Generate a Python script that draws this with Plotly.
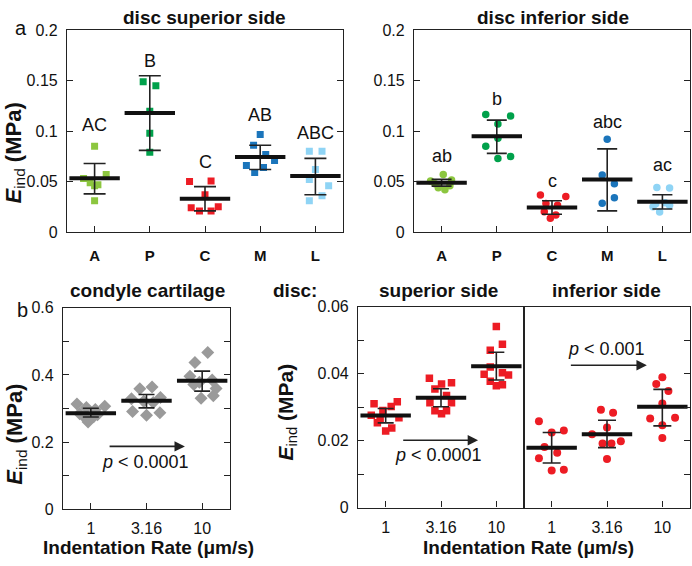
import plotly.graph_objects as go

W, H = 692, 566
FONT = "Liberation Sans, Arial, sans-serif"

# ---------------- data ----------------
sites = ["A", "P", "C", "M", "L"]
site_colors = ["#8cc63f", "#00a14b", "#ed1c24", "#1b75bb", "#8fd4f5"]

# panel a, disc superior side (values, MPa) and horizontal jitter (category units)
sup_vals = [
    [0.085, 0.057, 0.053, 0.049, 0.047, 0.046, 0.031],
    [0.149, 0.145, 0.1197, 0.098, 0.079],
    [0.050, 0.0507, 0.0369, 0.024, 0.021, 0.021, 0.025],
    [0.0966, 0.086, 0.077, 0.071, 0.066, 0.064, 0.059],
    [0.080, 0.080, 0.062, 0.052, 0.046, 0.036, 0.031],
]
sup_dx = [
    [0, 0.21, -0.2, -0.08, 0.06, 0, 0],
    [-0.12, 0.11, 0, 0, 0],
    [-0.28, 0.11, 0, -0.25, -0.1, 0.11, 0.24],
    [0, -0.12, 0.1, 0.26, -0.25, 0.06, -0.1],
    [-0.11, 0.12, 0, -0.11, 0.24, 0.12, -0.11],
]
sup_mean = [0.0533, 0.118, 0.033, 0.0745, 0.0555]
sup_hi = [0.068, 0.155, 0.045, 0.086, 0.073]
sup_lo = [0.0379, 0.081, 0.021, 0.062, 0.037]
sup_letters = ["AC", "B", "C", "AB", "ABC"]
sup_letter_y = [0.106, 0.170, 0.069, 0.116, 0.0985]

# panel a, disc inferior side
inf_vals = [
    [0.057, 0.0505, 0.0515, 0.044, 0.042, 0.046, 0.048],
    [0.1165, 0.115, 0.107, 0.093, 0.085, 0.075, 0.073],
    [0.0368, 0.0353, 0.0282, 0.0266, 0.0202, 0.017, 0.0138],
    [0.092, 0.0565, 0.048, 0.0286, 0.034],
    [0.0442, 0.0436, 0.025, 0.020, 0.0266, 0.029, 0.028],
]
inf_dx = [
    [0.03, -0.2, 0.18, -0.06, 0.06, 0.15, -0.12],
    [-0.2, 0.25, 0.02, 0.02, -0.2, 0.25, 0.02],
    [-0.21, 0.25, -0.11, 0.1, -0.14, 0.07, -0.03],
    [0, -0.09, 0.13, -0.09, 0.13],
    [-0.1, 0.13, -0.17, -0.05, 0.13, 0.05, -0.12],
]
inf_mean = [0.049, 0.095, 0.0244, 0.052, 0.030]
inf_hi = [0.0522, 0.111, 0.031, 0.0825, 0.037]
inf_lo = [0.0455, 0.078, 0.0177, 0.021, 0.0228]
inf_letters = ["ab", "b", "c", "abc", "ac"]
inf_letter_y = [0.075, 0.132, 0.051, 0.109, 0.066]

# panel b
rates = ["1", "3.16", "10"]

cond_vals = [
    [0.314, 0.303, 0.307, 0.297, 0.285, 0.282, 0.272, 0.276, 0.26],
    [0.359, 0.364, 0.329, 0.333, 0.322, 0.318, 0.291, 0.288, 0.28],
    [0.467, 0.437, 0.396, 0.385, 0.378, 0.36, 0.372, 0.331, 0.338],
]
cond_dx = [
    [-0.25, -0.08, 0.25, 0.08, -0.2, 0.12, -0.1, 0.05, -0.05],
    [-0.12, 0.1, -0.27, 0.25, -0.05, 0.12, -0.25, 0.24, 0],
    [0.1, -0.13, -0.22, 0.18, -0.05, 0.25, -0.15, -0.02, 0.2],
]
cond_mean = [0.2865, 0.323, 0.3827]
cond_hi = [0.301, 0.342, 0.4115]
cond_lo = [0.275, 0.302, 0.352]

rsup_vals = [
    [0.031, 0.0316, 0.0302, 0.029, 0.0276, 0.0268, 0.0265, 0.0253, 0.0238, 0.0229],
    [0.0386, 0.0373, 0.0369, 0.0354, 0.0335, 0.0313, 0.0313, 0.0289, 0.0289, 0.028],
    [0.0541, 0.0488, 0.047, 0.042, 0.0403, 0.0396, 0.0398, 0.0377, 0.0364, 0.0367],
]
rsup_dx = [
    [-0.21, 0.21, 0.1, -0.05, -0.26, 0.24, -0.1, -0.15, 0.11, 0],
    [-0.21, 0.19, 0.01, -0.11, 0.1, -0.2, 0.19, -0.11, 0.1, 0.01],
    [0, 0.11, -0.11, -0.11, 0.11, 0.22, -0.22, -0.11, 0, 0.11],
]
rsup_mean = [0.0275, 0.0328, 0.04225]
rsup_hi = [0.0296, 0.0355, 0.0464]
rsup_lo = [0.0253, 0.0301, 0.0381]

rinf_vals = [
    [0.0258, 0.0224, 0.023, 0.0181, 0.0164, 0.0147, 0.0111, 0.0113],
    [0.0292, 0.0283, 0.0239, 0.0219, 0.0191, 0.0191, 0.0198, 0.0145],
    [0.0389, 0.0369, 0.0348, 0.0311, 0.0266, 0.0268, 0.0246, 0.0208],
]
rinf_dx = [
    [-0.23, 0, 0.22, -0.13, 0.1, -0.23, 0, 0.22],
    [-0.11, 0.11, 0, -0.27, -0.08, 0.08, 0.25, 0],
    [0, -0.11, 0.11, 0, -0.22, 0.23, 0, 0],
]
rinf_mean = [0.0179, 0.0219, 0.0301]
rinf_hi = [0.0224, 0.0261, 0.0353]
rinf_lo = [0.0133, 0.0179, 0.0244]

# ---------------- figure ----------------
fig = go.Figure()


def px_x(p):
    return p / W


def px_y(p):
    return 1 - p / H


def add_group(vals, dxs, means, his, los, colors, symbol, size, xa, ya, cap):
    for i, (v, d) in enumerate(zip(vals, dxs)):
        fig.add_trace(go.Scatter(
            x=[i + e for e in d], y=v, mode="markers",
            marker=dict(symbol=symbol, size=size, color=colors[i], line=dict(width=0)),
            xaxis=xa, yaxis=ya, showlegend=False, hoverinfo="y"))
    fig.add_trace(go.Scatter(
        x=list(range(len(means))), y=means, mode="markers",
        marker=dict(symbol="line-ew", size=36, color="#111111",
                    line=dict(width=4, color="#111111")),
        error_y=dict(type="data", symmetric=False,
                     array=[h - m for h, m in zip(his, means)],
                     arrayminus=[m - l for m, l in zip(means, los)],
                     color="#222222", thickness=1.6, width=cap),
        xaxis=xa, yaxis=ya, showlegend=False, hoverinfo="y"))


add_group(sup_vals, sup_dx, sup_mean, sup_hi, sup_lo, site_colors, "square", 7, "x", "y", 11)
add_group(inf_vals, inf_dx, inf_mean, inf_hi, inf_lo, site_colors, "circle", 7.5, "x2", "y2", 10)
add_group(cond_vals, cond_dx, cond_mean, cond_hi, cond_lo, ["#9a9a9a"] * 3, "diamond", 10, "x3", "y3", 8)
add_group(rsup_vals, rsup_dx, rsup_mean, rsup_hi, rsup_lo, ["#ed1c24"] * 3, "square", 7.5, "x4", "y4", 8)
add_group(rinf_vals, rinf_dx, rinf_mean, rinf_hi, rinf_lo, ["#ed1c24"] * 3, "circle", 8, "x5", "y5", 9)

tickfont = dict(family=FONT, size=16, color="#111111")
base_ax = dict(showline=True, linecolor="#222222", linewidth=1.2, ticks="inside",
               ticklen=6, tickcolor="#222222", tickwidth=1.2, showgrid=False,
               zeroline=False, tickfont=tickfont)


def xax(domain, anchor, n, labels, bold, standoff):
    d = dict(base_ax)
    d.update(domain=domain, anchor=anchor, range=[-0.5, n - 0.5], mirror=True,
             tickvals=list(range(n)),
             ticktext=[("<b>%s</b>" % t) if bold else t for t in labels],
             ticklabelstandoff=standoff)
    if bold:
        d["tickfont"] = dict(family=FONT, size=15, color="#111111")
    return d


def yax(domain, anchor, rng, vals, text, mirror="ticks", side="left", show=True):
    d = dict(base_ax)
    d.update(domain=domain, anchor=anchor, range=rng, mirror=mirror, side=side,
             tickvals=vals, ticktext=text, showticklabels=show, ticklabelstandoff=5)
    return d


top_dom = [px_y(231), px_y(23)]
bot_dom = [px_y(517), px_y(309)]
bot2_dom = [px_y(515), px_y(308)]

yt_top = [0, 0.05, 0.1, 0.15, 0.2]
yt_top_txt = ["0", "0.05", "0.1", "0.15", "0.2"]
yt_cond = [0, 0.1, 0.2, 0.3, 0.4, 0.5, 0.6]
yt_cond_txt = ["0", " ", "0.2", " ", "0.4", " ", "0.6"]
yt_disc = [0, 0.01, 0.02, 0.03, 0.04, 0.05, 0.06]
yt_disc_txt = ["0", " ", "0.02", " ", "0.04", " ", "0.06"]

fig.update_layout(
    width=W, height=H, margin=dict(l=0, r=0, t=0, b=0),
    paper_bgcolor="white", plot_bgcolor="white",
    font=dict(family=FONT, color="#111111"),
    xaxis=xax([px_x(67), px_x(343)], "y", 5, sites, True, 10),
    yaxis=yax(top_dom, "x", [0, 0.2], yt_top, yt_top_txt),
    xaxis2=xax([px_x(414), px_x(690)], "y2", 5, sites, True, 10),
    yaxis2=yax(top_dom, "x2", [0, 0.2], yt_top, yt_top_txt),
    xaxis3=xax([px_x(63), px_x(230)], "y3", 3, rates, False, 4),
    yaxis3=yax(bot_dom, "x3", [0, 0.6], yt_cond, yt_cond_txt),
    xaxis4=xax([px_x(358), px_x(524)], "y4", 3, rates, False, 5),
    yaxis4=yax(bot2_dom, "x4", [0, 0.06], yt_disc, yt_disc_txt, mirror=True),
    xaxis5=xax([px_x(524), px_x(690)], "y5", 3, rates, False, 5),
    yaxis5=yax(bot2_dom, "x5", [0, 0.06], yt_disc, yt_disc_txt, mirror=True,
               side="right", show=False),
)

ann = []


def txt(x, y, s, size, bold=False, angle=0, xref="paper", yref="paper"):
    t = s
    if bold:
        t = "<b>%s</b>" % t
    ann.append(dict(x=x, y=y, xref=xref, yref=yref, text=t, showarrow=False,
                    font=dict(family=FONT, size=size, color="#111111"),
                    textangle=angle, xanchor="center", yanchor="middle"))


# titles
txt(px_x(205), px_y(10), "disc superior side", 19, bold=True)
txt(px_x(553), px_y(10), "disc inferior side", 19, bold=True)
txt(px_x(147), px_y(291), "condyle cartilage", 19, bold=True)
txt(px_x(295), px_y(291), "disc:", 19, bold=True)
txt(px_x(438), px_y(291), "superior side", 19, bold=True)
txt(px_x(606), px_y(291), "inferior side", 19, bold=True)
txt(px_x(148), px_y(556), "Indentation Rate (\u03bcm/s)", 19, bold=True)
txt(px_x(528), px_y(556), "Indentation Rate (\u03bcm/s)", 19, bold=True)
txt(px_x(21), px_y(21), "a", 20)
txt(px_x(22), px_y(311), "b", 20)

ytitle = "<b><i>E</i></b><sub>ind</sub><b> (MPa)</b>"
txt(px_x(15), px_y(150), ytitle, 22, angle=-90)
txt(px_x(16), px_y(440), ytitle, 22, angle=-90)
txt(px_x(287), px_y(417), ytitle, 21, angle=-90)

# significance letters
for i, (s, yv) in enumerate(zip(sup_letters, sup_letter_y)):
    txt(i, yv, s, 18, xref="x", yref="y")
for i, (s, yv) in enumerate(zip(inf_letters, inf_letter_y)):
    txt(i, yv, s, 18, xref="x2", yref="y2")

# trend arrows and p-values
arrows = [
    ("x3", "y3", 0.31, 1.69, 0.1875, 0.98, 0.141, "<i>p</i> < 0.0001"),
    ("x4", "y4", 0.29, 1.67, 0.0201, 0.95, 0.0158, "<i>p</i> < 0.0001"),
    ("x5", "y5", 0.32, 1.72, 0.0425, 0.995, 0.0474, "<i>p</i> < 0.001"),
]
for xa, ya, x0, x1, yv, tx, ty, label in arrows:
    ann.append(dict(x=x1, y=yv, ax=x0, ay=yv, xref=xa, yref=ya, axref=xa, ayref=ya,
                    text="", showarrow=True, arrowhead=2, arrowsize=1.3,
                    arrowwidth=1.6, arrowcolor="#222222"))
    txt(tx, ty, label, 18, xref=xa, yref=ya)

fig.update_layout(annotations=ann)

# remove the browser's default 8 px body margin so the figure fills the window
fig.write_html("out.html", config={"displayModeBar": False},
               post_script="document.body.style.margin='0px';")
